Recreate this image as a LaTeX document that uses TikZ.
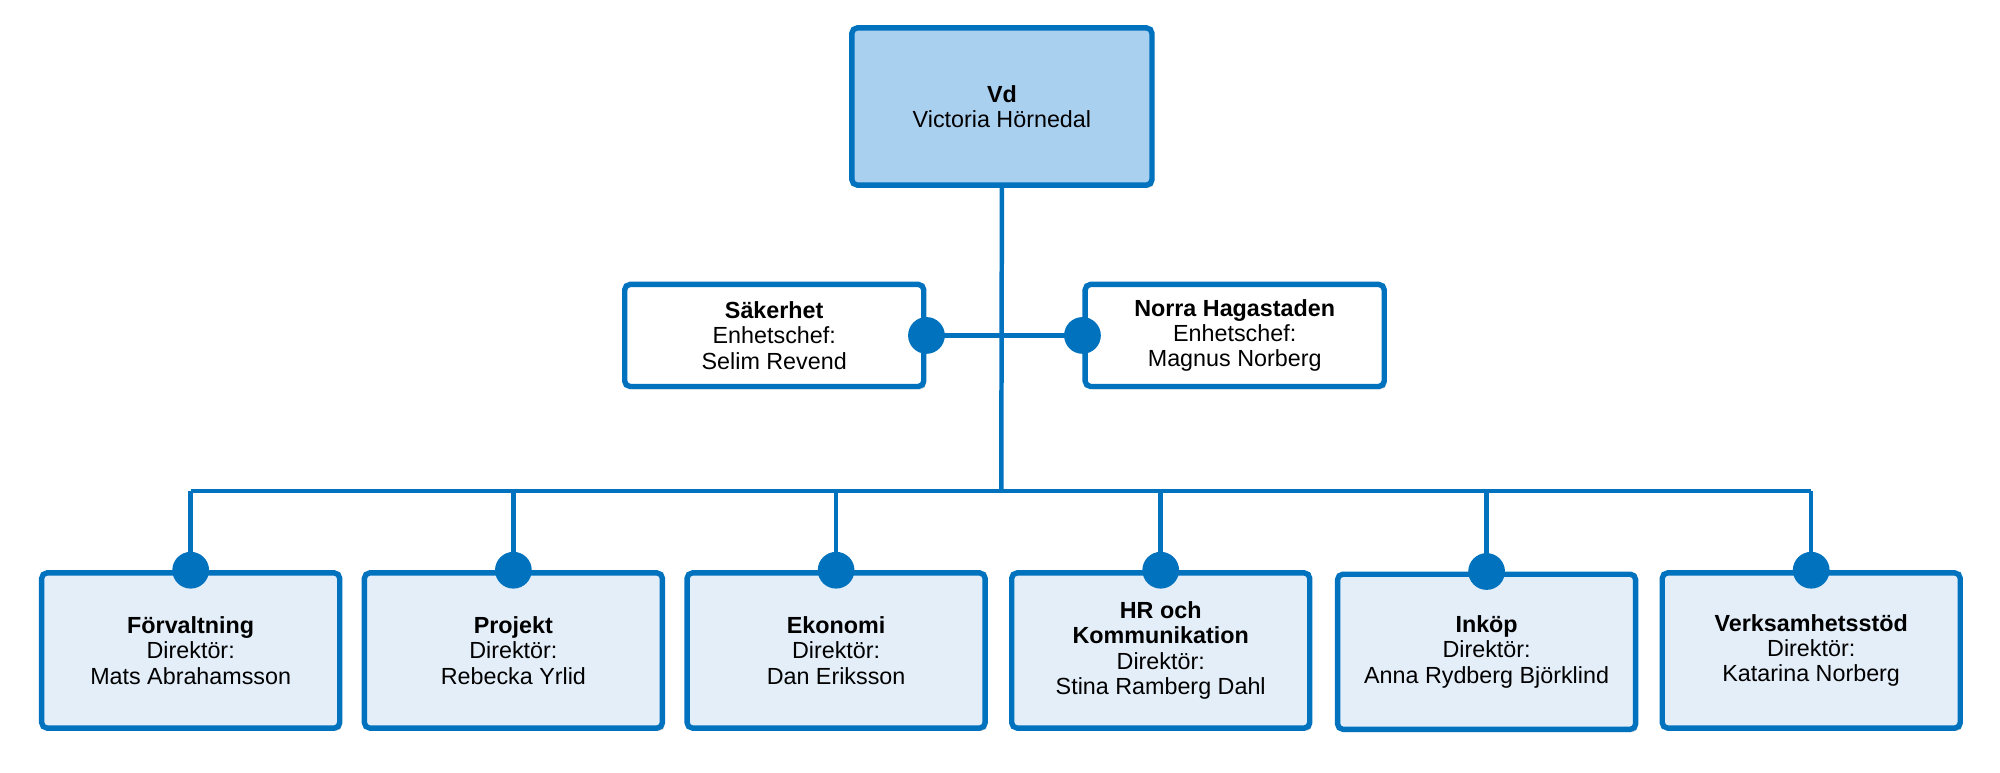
\documentclass[tikz,border=0pt]{standalone}
\usepackage{fontspec}
\setmainfont{Liberation Sans}
\usetikzlibrary{shadows}
\definecolor{orgblue}{RGB}{0,114,190}
\definecolor{topfill}{RGB}{170,208,240}
\definecolor{deptfill}{RGB}{227,238,249}
\tikzset{box/.style={draw=orgblue,line width=1.5pt,rounded corners=1.5pt,align=center,
  inner sep=0pt,font=\fontsize{6.5}{7.1}\selectfont,
  drop shadow={shadow xshift=0.6pt,shadow yshift=-0.8pt,fill=black!35}}}
\tikzset{top/.style={box,fill=topfill,minimum width=2.94cm,minimum height=1.54cm}}
\tikzset{unit/.style={box,fill=white,minimum width=2.93cm,minimum height=1cm}}
\tikzset{dept/.style={box,fill=deptfill,minimum width=2.92cm,minimum height=1.52cm}}
\tikzset{line/.style={draw=orgblue,line width=1.25pt}}
\tikzset{dot/.style={circle,fill=orgblue,inner sep=0pt,minimum size=0.36cm}}
\begin{document}
\begin{tikzpicture}[x=0.0125cm,y=-0.0125cm]
\useasboundingbox (0,0) rectangle (1568,606);
\node[top] (vd) at (785.5,83.5) {\textbf{Vd}\\Victoria Hörnedal};
\node[unit] (sak) at (607,263) {\textbf{Säkerhet}\\Enhetschef:\\Selim Revend};
\node[unit] (norra) at (968,263) {\textbf{Norra Hagastaden}\\Enhetschef:\\Magnus Norberg};
\node[dept] (forv) at (149.5,510) {\textbf{Förvaltning}\\Direktör:\\Mats Abrahamsson};
\node[dept] (proj) at (402.5,510) {\textbf{Projekt}\\Direktör:\\Rebecka Yrlid};
\node[dept] (eko) at (655.5,510) {\textbf{Ekonomi}\\Direktör:\\Dan Eriksson};
\node[dept] (hr) at (910,510) {\textbf{HR och}\\\textbf{Kommunikation}\\Direktör:\\Stina Ramberg Dahl};
\node[dept] (ink) at (1165.5,511) {\textbf{Inköp}\\Direktör:\\Anna Rydberg Björklind};
\node[dept] (verk) at (1420,510) {\textbf{Verksamhetsstöd}\\Direktör:\\Katarina Norberg};

\coordinate (hub) at (785,385);
\path[line] (vd.south) -- (hub);
\path[line] (sak.east) -- (norra.west);
\node[dot] at (sak.east) {};
\node[dot] at (norra.west) {};
\path[line] (forv.north |- hub) -- (verk.north |- hub);
\foreach \d in {forv,proj,eko,hr,ink,verk} {
  \path[line] (\d.north) -- (\d.north |- hub);
  \node[dot] at (\d.north) {};
}
\end{tikzpicture}
\end{document}
